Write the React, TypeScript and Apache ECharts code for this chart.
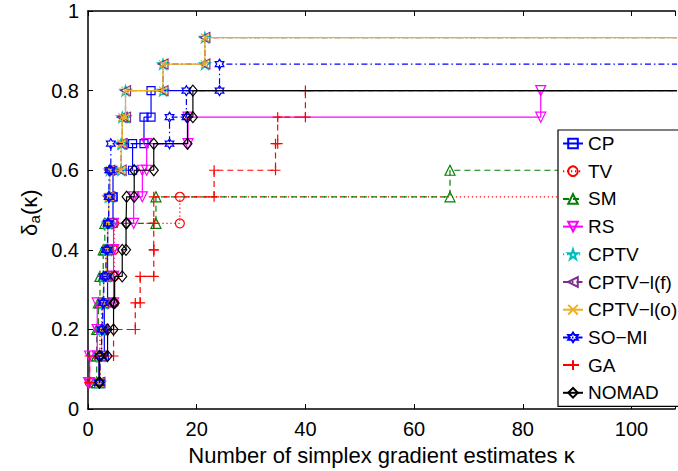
import React, { useEffect, useRef } from "react";
import * as echarts from "echarts";

const NPROB = 15;
const X_MAX = 108;
const X_END = 140;
const X_TICKS = [0, 20, 40, 60, 80, 100];
const Y_TICKS = [0, 0.2, 0.4, 0.6, 0.8, 1];

// kappa at which each solved problem is solved (sorted)
const CP = [2.0, 2.0, 3.0, 3.0, 3.6, 3.6, 3.6, 4.6, 4.6, 8.2, 10.3, 11.6];
const TV = [0.3, 2.0, 2.2, 2.5, 4.8, 4.8, 4.8, 16.9];
const SM = [1.6, 1.6, 1.6, 1.9, 2.2, 2.8, 3.1, 12.5, 66.6];
const RS = [0.1, 0.3, 1.7, 1.7, 4.7, 4.7, 4.7, 8.4, 10.0, 10.8, 18.4, 83.3];
const CPTV = [2.0, 2.2, 2.5, 2.8, 2.9, 3.4, 3.6, 3.8, 4.0, 6.1, 6.3, 6.9, 13.8, 21.5];
const CPTV_LF = [2.0, 2.2, 2.5, 2.8, 2.9, 3.4, 3.6, 3.8, 4.0, 6.1, 6.3, 6.9, 13.8, 21.5];
const CPTV_LO = [2.0, 2.2, 2.5, 2.8, 2.9, 3.4, 3.6, 3.8, 4.0, 6.1, 6.3, 6.9, 13.8, 21.5];
const SOMI = [2.0, 2.2, 2.5, 2.7, 2.9, 3.3, 3.6, 3.8, 3.9, 4.2, 15.0, 18.1, 24.2];
const GA = [0.3, 0.3, 4.7, 8.7, 9.6, 12.1, 12.1, 12.1, 23.2, 34.5, 34.9, 40.0];
const NOMAD = [2.1, 2.1, 3.6, 4.7, 4.9, 6.3, 7.0, 7.1, 8.5, 12.1, 18.3, 19.3];

const NAMES = ["CP", "TV", "SM", "RS", "CPTV", "CPTV\u2212l(f)", "CPTV\u2212l(o)", "SO\u2212MI", "GA", "NOMAD"];

const FONT = "'Liberation Sans', Arial, Helvetica, sans-serif";

function starPath(n: number, rIn: number): string {
  let d = "";
  for (let i = 0; i < 2 * n; i++) {
    const a = -Math.PI / 2 + (i * Math.PI) / n;
    const r = i % 2 ? rIn : 1;
    d += (i ? "L" : "M") + (r * Math.cos(a)).toFixed(3) + "," + (r * Math.sin(a)).toFixed(3);
  }
  return "path://" + d + "Z";
}

const PENTAGRAM = starPath(5, 0.382);
const HEXAGRAM = starPath(6, 0.577);
const PLUS = "path://M5,0L5,10M0,5L10,5";
const CROSS = "path://M0,0L10,10M10,0L0,10";

const DOT = [1.2, 2.8];
const DASH = [6, 4];
const DASHDOT = [6, 3, 1.5, 3];

const STYLES: any[] = [
  { data: CP, color: "#0000ff", dash: "solid", symbol: "rect", size: 8 },
  { data: TV, color: "#ff0000", dash: DOT, symbol: "circle", size: 9 },
  { data: SM, color: "#008000", dash: DASH, symbol: "triangle", size: 10 },
  { data: RS, color: "#ff00ff", dash: "solid", symbol: "triangle", rotate: 180, size: 10 },
  { data: CPTV, color: "#00bfbf", dash: DOT, symbol: PENTAGRAM, size: 11 },
  { data: CPTV_LF, color: "#7e2f8e", dash: DASHDOT, symbol: "triangle", rotate: 90, size: 10 },
  { data: CPTV_LO, color: "#edb120", dash: "solid", symbol: CROSS, size: 8 },
  { data: SOMI, color: "#0000ff", dash: DASHDOT, symbol: HEXAGRAM, size: 10 },
  { data: GA, color: "#ff0000", dash: DASH, symbol: PLUS, size: 10 },
  { data: NOMAD, color: "#000000", dash: "solid", symbol: "diamond", size: [9, 11] },
];

function steps(ks: number[]): [number, number][] {
  const pts: [number, number][] = [];
  ks.forEach((k, i) => {
    if (i > 0) pts.push([k, i / NPROB]);
    pts.push([k, (i + 1) / NPROB]);
  });
  pts.push([X_END, ks.length / NPROB]);
  return pts;
}

export default function App() {
  const ref = useRef<HTMLDivElement>(null);
  useEffect(() => {
    if (!ref.current) return;
    const chart = echarts.init(ref.current, undefined, { renderer: "svg" });
    const axisLine = { show: true, onZero: false, lineStyle: { color: "#000", width: 1.5 } };
    const axisTick = { show: true, inside: true, length: 5, lineStyle: { color: "#000", width: 1 } };
    const series = STYLES.map((s, i) => ({
      name: NAMES[i],
      type: "line",
      data: steps(s.data),
      symbol: s.symbol,
      symbolSize: s.size,
      symbolRotate: s.rotate || 0,
      symbolKeepAspect: true,
      showAllSymbol: true,
      clip: true,
      lineStyle: { color: s.color, width: 1.2, type: s.dash },
      itemStyle: { color: "transparent", borderColor: s.color, borderWidth: 1.2 },
      emphasis: { disabled: true },
      z: 2 + i * 0.01,
    }));
    chart.setOption({
      animation: false,
      grid: { left: 88, top: 11, bottom: 60, right: 678 - (88 + X_MAX * 5.535) },
      legend: {
        orient: "vertical",
        left: 558,
        top: 130,
        data: NAMES,
        itemWidth: 20,
        itemHeight: 12,
        itemGap: 8.7,
        padding: [4, 3, 4, 4],
        borderColor: "#000",
        borderWidth: 1.2,
        backgroundColor: "#fff",
        selectedMode: false,
        textStyle: { fontFamily: FONT, fontSize: 19, color: "#000" },
      },
      xAxis: [
        {
          type: "value",
          min: 0,
          max: X_MAX,
          interval: 20,
          position: "bottom",
          axisLine,
          axisTick,
          splitLine: { show: false },
          axisLabel: {
            margin: 10,
            fontSize: 20,
            color: "#000",
            fontFamily: FONT,
            formatter: (v: number) => (X_TICKS.includes(v) ? String(v) : ""),
          },
          name: "Number of simplex gradient estimates \u03ba",
          nameLocation: "middle",
          nameGap: 29,
          nameTextStyle: { fontSize: 22, color: "#000", fontFamily: FONT },
        },
        {
          type: "value",
          min: 0,
          max: X_MAX,
          interval: 20,
          position: "top",
          axisLine,
          axisTick,
          splitLine: { show: false },
          axisLabel: { show: false },
        },
      ],
      yAxis: [
        {
          type: "value",
          min: 0,
          max: 1,
          interval: 0.2,
          axisLine,
          axisTick,
          splitLine: { show: false },
          axisLabel: {
            margin: 9,
            fontSize: 20,
            color: "#000",
            fontFamily: FONT,
            formatter: (v: number) => {
              const r = Math.round(v * 10) / 10;
              return Y_TICKS.includes(r) ? String(r) : "";
            },
          },
        },
      ],
      graphic: [
        {
          type: "group",
          x: 29,
          y: 212,
          rotation: Math.PI / 2,
          children: [
            { type: "text", x: -24, y: 0, style: { text: "\u03b4", fontSize: 22, fontFamily: FONT, fill: "#000", verticalAlign: "middle", align: "left" } },
            { type: "text", x: -11.5, y: 5, style: { text: "a", fontSize: 15, fontFamily: FONT, fill: "#000", verticalAlign: "middle", align: "left" } },
            { type: "text", x: -3, y: 0, style: { text: "(\u03ba)", fontSize: 22, fontFamily: FONT, fill: "#000", verticalAlign: "middle", align: "left" } },
          ],
        },
      ],
      series,
    });
    return () => chart.dispose();
  }, []);
  return (
    <div
      ref={ref}
      style={{ position: "absolute", left: 0, top: 0, width: 678, height: 471, background: "#fff" }}
    />
  );
}
